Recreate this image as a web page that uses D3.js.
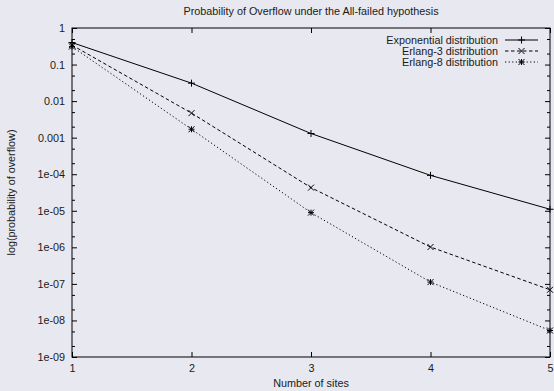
<!DOCTYPE html>
<html>
<head>
<meta charset="utf-8">
<script src="https://cdn.jsdelivr.net/npm/d3@7"></script>
<style>
  body { margin: 0; background: #e8e8f0; }
  svg { display: block; font-family: "Liberation Sans", Arial, sans-serif; }
</style>
</head>
<body>
<script>
"use strict";

// values
const sites = [1, 2, 3, 4, 5];
const expo = [0.40, 0.031, 0.00130, 9.3e-5, 1.1e-5];
const erlang3 = [0.34, 0.0047, 4.3e-5, 1.02e-6, 6.9e-8];
const erlang8 = [0.31, 0.0017, 8.9e-6, 1.12e-7, 5.3e-9];
const seriesNames = ["Exponential distribution", "Erlang-3 distribution", "Erlang-8 distribution"];
const yTicks = [1, 0.1, 0.01, 0.001, 1e-4, 1e-5, 1e-6, 1e-7, 1e-8, 1e-9];
const yTickLabels = ["1", "0.1", "0.01", "0.001", "1e-04", "1e-05", "1e-06", "1e-07", "1e-08", "1e-09"];

const width = 554, height = 391;
const margin = {top: 28, right: 4, bottom: 34, left: 72};
const innerW = width - margin.left - margin.right,
      innerH = height - margin.top - margin.bottom;
const fontSize = "10.8px";

const svg = d3.select("body").append("svg")
    .attr("width", width)
    .attr("height", height);

const g = svg.append("g")
    .attr("transform", "translate(" + margin.left + "," + margin.top + ")");

const x = d3.scaleLinear().domain([1, 5]).range([0, innerW]);
const y = d3.scaleLog().domain([1e-9, 1]).range([innerH, 0]);

// minor ticks at 2 and 5 of each decade
let minor = [];
for (let e = -9; e < 0; e++) {
  minor.push(2 * Math.pow(10, e));
  minor.push(5 * Math.pow(10, e));
}

const textColor = "#1a1a1a";

function styleAxis(sel) {
  sel.select(".domain").remove();
  sel.selectAll("line").attr("stroke", "#000");
  sel.selectAll("text").attr("fill", textColor).style("font-size", fontSize);
}

// left axis
g.append("g")
  .call(d3.axisLeft(y).tickValues(yTicks).tickSize(-5).tickPadding(7)
    .tickFormat((d, i) => yTickLabels[i]))
  .call(styleAxis);
g.append("g")
  .call(d3.axisLeft(y).tickValues(minor).tickSize(-3).tickFormat(""))
  .call(styleAxis);
// right axis (mirror)
g.append("g").attr("transform", "translate(" + innerW + ",0)")
  .call(d3.axisRight(y).tickValues(yTicks).tickSize(-5).tickFormat(""))
  .call(styleAxis);
g.append("g").attr("transform", "translate(" + innerW + ",0)")
  .call(d3.axisRight(y).tickValues(minor).tickSize(-3).tickFormat(""))
  .call(styleAxis);
// bottom axis
g.append("g").attr("transform", "translate(0," + innerH + ")")
  .call(d3.axisBottom(x).tickValues(sites).tickSize(-5).tickPadding(7)
    .tickFormat(d3.format("d")))
  .call(styleAxis);
// top axis (mirror)
g.append("g")
  .call(d3.axisTop(x).tickValues(sites).tickSize(-5).tickFormat(""))
  .call(styleAxis);

// frame
g.append("rect")
  .attr("width", innerW).attr("height", innerH)
  .attr("fill", "none").attr("stroke", "#000").attr("stroke-width", 1);

// markers
function markerPath(kind, s) {
  let p = "";
  if (kind === "plus" || kind === "star") {
    p += "M" + (-s) + ",0H" + s + "M0," + (-s) + "V" + s;
  }
  if (kind === "cross" || kind === "star") {
    p += "M" + (-s) + "," + (-s) + "L" + s + "," + s + "M" + (-s) + "," + s + "L" + s + "," + (-s);
  }
  return p;
}

const series = [
  {name: seriesNames[0], values: expo, dash: null, marker: "plus"},
  {name: seriesNames[1], values: erlang3, dash: "3.5,2.5", marker: "cross"},
  {name: seriesNames[2], values: erlang8, dash: "1.2,2.4", marker: "star"}
];

const line = d3.line()
  .x(d => x(d[0]))
  .y(d => y(d[1]));

series.forEach(function(s) {
  let pts = sites.map((d, i) => [d, s.values[i]]);
  g.append("path")
    .datum(pts)
    .attr("d", line)
    .attr("fill", "none")
    .attr("stroke", "#000")
    .attr("stroke-width", 1)
    .attr("stroke-dasharray", s.dash);
  g.selectAll(null)
    .data(pts)
    .enter()
    .append("path")
    .attr("transform", d => "translate(" + x(d[0]) + "," + y(d[1]) + ")")
    .attr("d", markerPath(s.marker, s.marker === "plus" ? 3.5 : 3))
    .attr("fill", "none")
    .attr("stroke", "#000")
    .attr("stroke-width", 1);
});

// legend
const legend = svg.append("g");
series.forEach(function(s, i) {
  let ly = 40 + i * 11;
  legend.append("text")
    .attr("x", 498).attr("y", ly)
    .attr("dy", "0.35em")
    .attr("text-anchor", "end")
    .attr("fill", textColor)
    .style("font-size", fontSize)
    .text(s.name);
  legend.append("line")
    .attr("x1", 505).attr("x2", 538)
    .attr("y1", ly).attr("y2", ly)
    .attr("stroke", "#000")
    .attr("stroke-dasharray", s.dash);
  legend.append("path")
    .attr("transform", "translate(521.5," + ly + ")")
    .attr("d", markerPath(s.marker, s.marker === "plus" ? 3.5 : 3))
    .attr("fill", "none")
    .attr("stroke", "#000");
});

// titles
svg.append("text")
  .attr("x", margin.left + innerW / 2).attr("y", 15)
  .attr("text-anchor", "middle")
  .attr("fill", textColor)
  .style("font-size", fontSize)
  .text("Probability of Overflow under the All-failed hypothesis");

svg.append("text")
  .attr("x", margin.left + innerW / 2).attr("y", 387)
  .attr("text-anchor", "middle")
  .attr("fill", textColor)
  .style("font-size", fontSize)
  .text("Number of sites");

svg.append("text")
  .attr("transform", "translate(15," + (margin.top + innerH / 2) + ") rotate(-90)")
  .attr("text-anchor", "middle")
  .attr("fill", textColor)
  .style("font-size", fontSize)
  .text("log(probability of overflow)");
</script>
</body>
</html>
